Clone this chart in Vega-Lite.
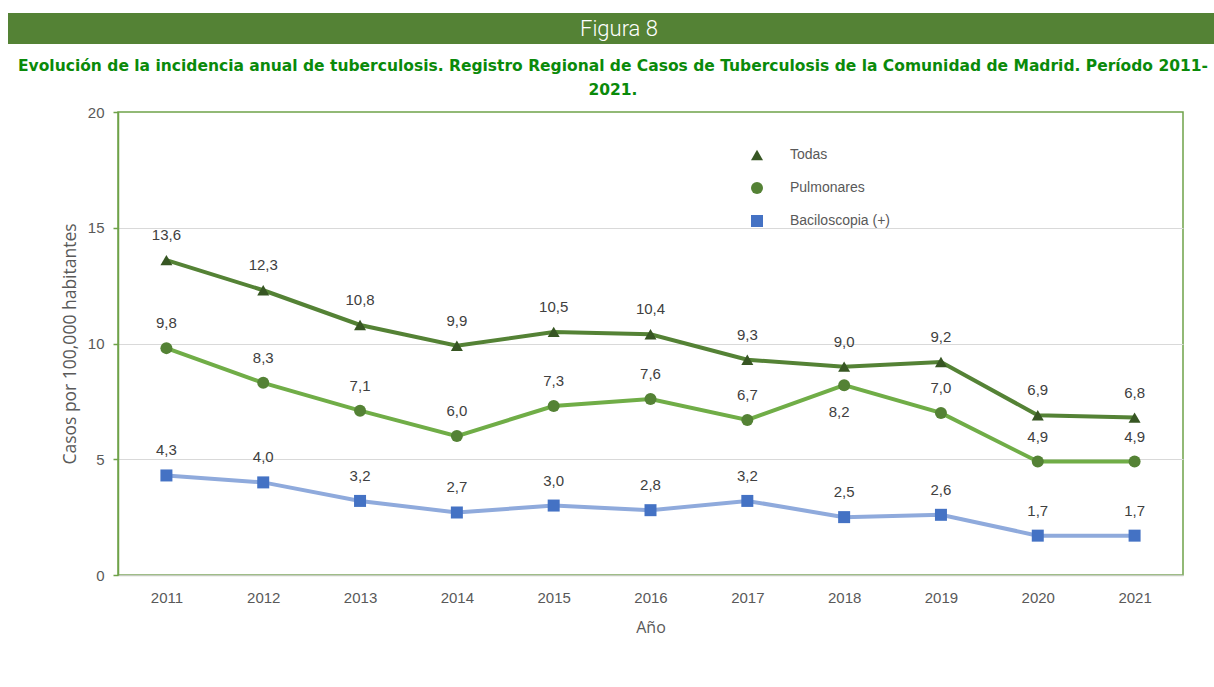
{
  "$schema": "https://vega.github.io/schema/vega-lite/v6.json",
  "padding": {"left": 8, "top": 13, "right": 0, "bottom": 0},
  "spacing": 5,
  "bounds": "full",
  "background": "white",
  "config": {
    "view": {"stroke": null},
    "font": "Liberation Sans",
    "locale": {"number": {"decimal": ",", "thousands": ".", "grouping": [3], "currency": ["", " €"]}}
  },
  "datasets": {
    "d": [
      {"year": 2011, "series": "Todas", "value": 13.6},
      {"year": 2012, "series": "Todas", "value": 12.3},
      {"year": 2013, "series": "Todas", "value": 10.8},
      {"year": 2014, "series": "Todas", "value": 9.9},
      {"year": 2015, "series": "Todas", "value": 10.5},
      {"year": 2016, "series": "Todas", "value": 10.4},
      {"year": 2017, "series": "Todas", "value": 9.3},
      {"year": 2018, "series": "Todas", "value": 9.0},
      {"year": 2019, "series": "Todas", "value": 9.2},
      {"year": 2020, "series": "Todas", "value": 6.9},
      {"year": 2021, "series": "Todas", "value": 6.8},
      {"year": 2011, "series": "Pulmonares", "value": 9.8},
      {"year": 2012, "series": "Pulmonares", "value": 8.3},
      {"year": 2013, "series": "Pulmonares", "value": 7.1},
      {"year": 2014, "series": "Pulmonares", "value": 6.0},
      {"year": 2015, "series": "Pulmonares", "value": 7.3},
      {"year": 2016, "series": "Pulmonares", "value": 7.6},
      {"year": 2017, "series": "Pulmonares", "value": 6.7},
      {"year": 2018, "series": "Pulmonares", "value": 8.2},
      {"year": 2019, "series": "Pulmonares", "value": 7.0},
      {"year": 2020, "series": "Pulmonares", "value": 4.9},
      {"year": 2021, "series": "Pulmonares", "value": 4.9},
      {"year": 2011, "series": "Baciloscopia (+)", "value": 4.3},
      {"year": 2012, "series": "Baciloscopia (+)", "value": 4.0},
      {"year": 2013, "series": "Baciloscopia (+)", "value": 3.2},
      {"year": 2014, "series": "Baciloscopia (+)", "value": 2.7},
      {"year": 2015, "series": "Baciloscopia (+)", "value": 3.0},
      {"year": 2016, "series": "Baciloscopia (+)", "value": 2.8},
      {"year": 2017, "series": "Baciloscopia (+)", "value": 3.2},
      {"year": 2018, "series": "Baciloscopia (+)", "value": 2.5},
      {"year": 2019, "series": "Baciloscopia (+)", "value": 2.6},
      {"year": 2020, "series": "Baciloscopia (+)", "value": 1.7},
      {"year": 2021, "series": "Baciloscopia (+)", "value": 1.7}
    ]
  },
  "vconcat": [
    {
      "width": 1206,
      "height": 31,
      "view": {"fill": "#548235", "stroke": null},
      "title": {
        "text": ["Evolución de la incidencia anual de tuberculosis. Registro Regional de Casos de Tuberculosis de la Comunidad de Madrid. Período 2011-", "2021."],
        "orient": "bottom",
        "font": "DejaVu Sans",
        "fontWeight": "bold",
        "fontSize": 15.5,
        "color": "#0A8A0A",
        "lineHeight": 24,
        "dx": 2,
        "offset": 15
      },
      "data": {"values": [{"t": "Figura 8"}]},
      "mark": {"type": "text", "color": "white", "fontSize": 22, "font": "Roboto", "fontWeight": 300, "dx": 8},
      "encoding": {"text": {"field": "t", "type": "nominal"}}
    },
    {
      "spacing": 12,
      "hconcat": [
        {
          "width": 40,
          "height": 10,
          "data": {"values": []},
          "mark": {"type": "point", "opacity": 0}
        },
        {
          "width": 1065,
          "height": 463,
          "view": {"stroke": "#6FA24A", "strokeWidth": 1.5, "fill": "white"},
          "data": {"name": "d"},
          "encoding": {
            "x": {
              "field": "year", "type": "quantitative",
              "scale": {"domain": [2010.5, 2021.5], "nice": false, "zero": false},
              "axis": {
                "values": [2011, 2012, 2013, 2014, 2015, 2016, 2017, 2018, 2019, 2020, 2021],
                "format": "d", "title": "Año", "grid": false, "ticks": false,
                "domainColor": "#C5CCC0", "domainWidth": 1.5,
                "labelFontSize": 15, "labelColor": "#595959", "labelPadding": 15,
                "titleFontSize": 16, "titleColor": "#595959", "titleFontWeight": "normal", "titlePadding": 14,
                "titleFont": "Open Sans"
              }
            },
            "y": {
              "field": "value", "type": "quantitative",
              "scale": {"domain": [0, 20], "nice": false},
              "axis": {
                "values": [0, 5, 10, 15, 20],
                "title": "Casos por 100,000 habitantes",
                "domainColor": "#6FA24A", "domainWidth": 1.5, "tickColor": "#6FA24A", "tickSize": 5, "tickWidth": 1.5,
                "labelFontSize": 15, "labelColor": "#595959", "labelPadding": 9,
                "gridColor": {"condition": {"test": "datum.value === 20", "value": "transparent"}, "value": "#D9D9D9"},
                "titleFontSize": 17.5, "titleColor": "#595959", "titleFontWeight": "normal", "titlePadding": 8,
                "titleFont": "Open Sans"
              }
            }
          },
          "layer": [
            {
              "mark": {"type": "line", "strokeWidth": 4},
              "encoding": {
                "stroke": {
                  "field": "series", "type": "nominal",
                  "scale": {"domain": ["Todas", "Pulmonares", "Baciloscopia (+)"], "range": ["#548235", "#70AD47", "#8FAADC"]},
                  "legend": {
                    "orient": "none", "legendX": 742, "legendY": 135, "title": null, "padding": 0,
                    "symbolSize": 144, "symbolStrokeWidth": 0, "symbolOpacity": 1,
                    "labelFontSize": 14, "labelColor": "#595959", "labelOffset": 26, "rowPadding": 19
                  }
                }
              }
            },
            {
              "mark": {"type": "point", "filled": true, "size": 144, "opacity": 1},
              "encoding": {
                "shape": {
                  "field": "series", "type": "nominal",
                  "scale": {"domain": ["Todas", "Pulmonares", "Baciloscopia (+)"], "range": ["triangle-up", "circle", "square"]}
                },
                "fill": {
                  "field": "series", "type": "nominal",
                  "scale": {"domain": ["Todas", "Pulmonares", "Baciloscopia (+)"], "range": ["#375623", "#548235", "#4472C4"]},
                  "legend": {
                    "orient": "none", "legendX": 742, "legendY": 135, "title": null, "padding": 0,
                    "symbolSize": 144, "symbolStrokeWidth": 0, "symbolOpacity": 1,
                    "labelFontSize": 14, "labelColor": "#595959", "labelOffset": 26, "rowPadding": 19
                  }
                }
              }
            },
            {
              "transform": [{"filter": "!(datum.series === 'Pulmonares' && datum.year === 2018)"}],
              "mark": {"type": "text", "dy": -25, "fontSize": 15, "color": "#404040"},
              "encoding": {"text": {"field": "value", "type": "quantitative", "format": ".1f"}}
            },
            {
              "transform": [{"filter": "datum.series === 'Pulmonares' && datum.year === 2018"}],
              "mark": {"type": "text", "dy": 27, "dx": -5, "fontSize": 15, "color": "#404040"},
              "encoding": {"text": {"field": "value", "type": "quantitative", "format": ".1f"}}
            }
          ]
        }
      ]
    }
  ]
}
